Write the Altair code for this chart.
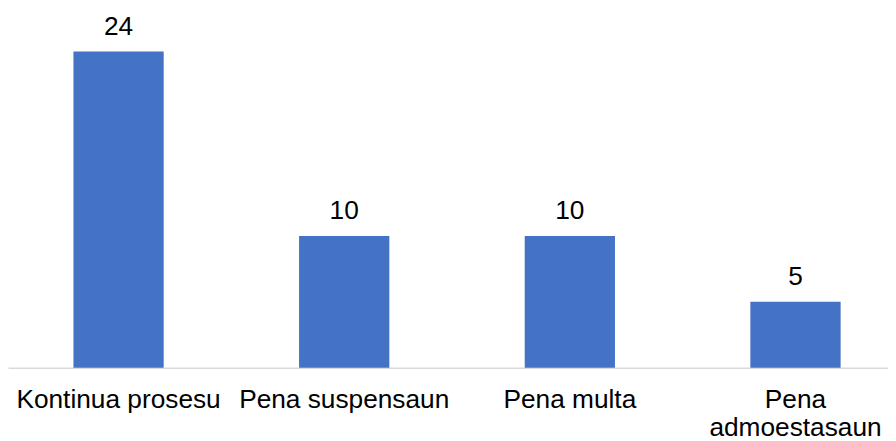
import altair as alt
import pandas as pd

categories = ["Kontinua prosesu", "Pena suspensaun", "Pena multa", "Pena admoestasaun"]
values = [24, 10, 10, 5]

df = pd.DataFrame({"cat": categories, "val": values})

x = alt.X(
    "cat:N",
    sort=categories,
    title=None,
    scale=alt.Scale(paddingInner=0.6, paddingOuter=0.25, align=0.58),
    axis=alt.Axis(
        labelAngle=0,
        labelFont="Liberation Sans",
        labelFontSize=26.5,
        labelColor="#000000",
        labelPadding=19,
        labelLineHeight=28,
        labelBaseline="top",
        labelLimit=0,
        ticks=False,
        tickSize=0,
        domainColor="#D9D9D9",
        domainWidth=1.5,
        grid=False,
        labelExpr="datum.label == 'Pena admoestasaun' ? ['Pena', 'admoestasaun'] : datum.label",
    ),
)
y = alt.Y("val:Q", scale=alt.Scale(domain=[0, 27.16], nice=False, zero=True), axis=None)

base = alt.Chart(df)
bars = base.mark_bar(color="#4472C4").encode(x=x, y=y)
labels = base.mark_text(
    font="Liberation Sans", fontSize=26.5, color="#000000", baseline="alphabetic", dy=-17
).encode(x=x, y=y, text="val:Q")

chart = (
    alt.layer(bars, labels)
    .properties(width=888, height=361, padding={"left": 0, "top": 0, "right": 0, "bottom": 0})
    .configure(background="#ffffff")
    .configure_view(stroke=None, strokeWidth=0)
)

chart.save("out.html", embed_options={"renderer": "svg", "actions": False})
